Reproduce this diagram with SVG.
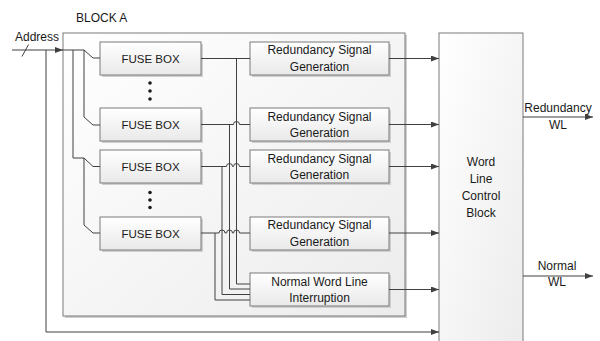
<svg xmlns="http://www.w3.org/2000/svg" width="600" height="341" viewBox="0 0 600 341">
<style>
text{font-family:"Liberation Sans",Arial,sans-serif;font-size:12px;fill:#1a1a1a}
.c{text-anchor:middle}
.box{stroke:#7a7a7a;stroke-width:1;fill:url(#g)}
.sh{fill:#cfcfcf}
.ln{fill:none;stroke:#404040;stroke-width:1}
.ar{fill:none;stroke:#404040;stroke-width:1;marker-end:url(#ah)}
</style>
<defs>
<linearGradient id="g" x1="0" y1="0" x2="0" y2="1">
<stop offset="0" stop-color="#ffffff"/><stop offset="1" stop-color="#e9e9e9"/>
</linearGradient>
<linearGradient id="gb" x1="0" y1="0" x2="1" y2="1">
<stop offset="0" stop-color="#ffffff"/><stop offset="1" stop-color="#ececec"/>
</linearGradient>
<marker id="ah" markerWidth="8" markerHeight="6" refX="8" refY="3" orient="auto" markerUnits="userSpaceOnUse">
<path d="M0,0 L8,3 L0,6 Z" fill="#404040"/>
</marker>
</defs>

<g id="blockA">
<rect x="65" y="35" width="342" height="283" class="sh"/>
<rect x="63" y="33" width="342" height="283" fill="url(#gb)" stroke="#7a7a7a"/>
<text x="76" y="22">BLOCK A</text>
</g>

<g id="wlc">
<rect x="439" y="33" width="84" height="320" fill="url(#gb)" stroke="#7a7a7a"/>
<text class="c" x="481" y="166">Word</text>
<text class="c" x="481" y="183">Line</text>
<text class="c" x="481" y="200">Control</text>
<text class="c" x="481" y="217">Block</text>
</g>

<g id="fuse1"><rect x="102" y="44" width="101" height="33" class="sh"/><rect x="100" y="42" width="101" height="33" class="box"/><text class="c" x="150.5" y="62.5" style="font-size:11.5px">FUSE BOX</text></g>
<g id="fuse2"><rect x="102" y="110" width="101" height="33" class="sh"/><rect x="100" y="108" width="101" height="33" class="box"/><text class="c" x="150.5" y="129" style="font-size:11.5px">FUSE BOX</text></g>
<g id="fuse3"><rect x="102" y="152" width="101" height="33" class="sh"/><rect x="100" y="150" width="101" height="33" class="box"/><text class="c" x="150.5" y="171" style="font-size:11.5px">FUSE BOX</text></g>
<g id="fuse4"><rect x="102" y="219" width="101" height="33" class="sh"/><rect x="100" y="217" width="101" height="33" class="box"/><text class="c" x="150.5" y="237.5" style="font-size:11.5px">FUSE BOX</text></g>

<g id="dots1" fill="#1a1a1a"><circle cx="150" cy="83" r="1.8"/><circle cx="150" cy="91" r="1.8"/><circle cx="150" cy="99" r="1.8"/></g>
<g id="dots2" fill="#1a1a1a"><circle cx="150" cy="192.5" r="1.8"/><circle cx="150" cy="200" r="1.8"/><circle cx="150" cy="207.5" r="1.8"/></g>

<g id="rsg1"><rect x="252" y="44" width="139" height="33" class="sh"/><rect x="250" y="42" width="139" height="33" class="box"/><text class="c" x="319.5" y="54">Redundancy Signal</text><text class="c" x="319.5" y="70.5">Generation</text></g>
<g id="rsg2"><rect x="252" y="110" width="139" height="33" class="sh"/><rect x="250" y="108" width="139" height="33" class="box"/><text class="c" x="319.5" y="120.5">Redundancy Signal</text><text class="c" x="319.5" y="137">Generation</text></g>
<g id="rsg3"><rect x="252" y="152" width="139" height="33" class="sh"/><rect x="250" y="150" width="139" height="33" class="box"/><text class="c" x="319.5" y="162.5">Redundancy Signal</text><text class="c" x="319.5" y="179">Generation</text></g>
<g id="rsg4"><rect x="252" y="219" width="139" height="33" class="sh"/><rect x="250" y="217" width="139" height="33" class="box"/><text class="c" x="319.5" y="229">Redundancy Signal</text><text class="c" x="319.5" y="245.5">Generation</text></g>
<g id="nwli"><rect x="252" y="275" width="139" height="33" class="sh"/><rect x="250" y="273" width="139" height="33" class="box"/><text class="c" x="319.5" y="285.5">Normal Word Line</text><text class="c" x="319.5" y="302">Interruption</text></g>

<g id="connectors">
<!-- address input -->
<path class="ar" d="M12,50 H63"/>
<path class="ln" d="M22,56.5 L28.5,44.5"/>
<text x="15" y="41">Address</text>
<!-- bypass -->
<path class="ar" d="M46,50 V332 H439"/>
<!-- internal bus -->
<path class="ln" d="M63,50 H84 L93,58 H100"/>
<path class="ln" d="M84,50 V117 L93,125 H100"/>
<path class="ln" d="M73,50 V158 H84 L93,166.5 H100"/>
<path class="ln" d="M84,158 V225 L93,233 H100"/>
<!-- fuse outputs -->
<path class="ln" d="M201,58.5 H250"/>
<path class="ln" d="M236.5,58.5 V284 H250"/>
<path class="ln" d="M201,124.5 H233.5 a3,3 0 0 1 6,0 H250"/>
<path class="ln" d="M229.5,124.5 V289 H250"/>
<path class="ln" d="M201,166.5 H226.5 a3,3 0 0 1 6,0 H233.5 a3,3 0 0 1 6,0 H250"/>
<path class="ln" d="M222,166.5 V294.5 H250"/>
<path class="ln" d="M201,233 H219 a3,3 0 0 1 6,0 H226.5 a3,3 0 0 1 6,0 H233.5 a3,3 0 0 1 6,0 H250"/>
<path class="ln" d="M215,233 V300 H250"/>
<!-- to WLC -->
<path class="ar" d="M389,58.5 H439"/>
<path class="ar" d="M389,124.5 H439"/>
<path class="ar" d="M389,166.5 H439"/>
<path class="ar" d="M389,233 H439"/>
<path class="ar" d="M389,289.5 H439"/>
<!-- outputs -->
<path class="ar" d="M523,117 H593"/>
<path class="ar" d="M523,276 H593"/>
<text class="c" x="558" y="112">Redundancy</text>
<text class="c" x="558" y="129">WL</text>
<text class="c" x="557" y="270">Normal</text>
<text class="c" x="557" y="286">WL</text>
</g>
</svg>
